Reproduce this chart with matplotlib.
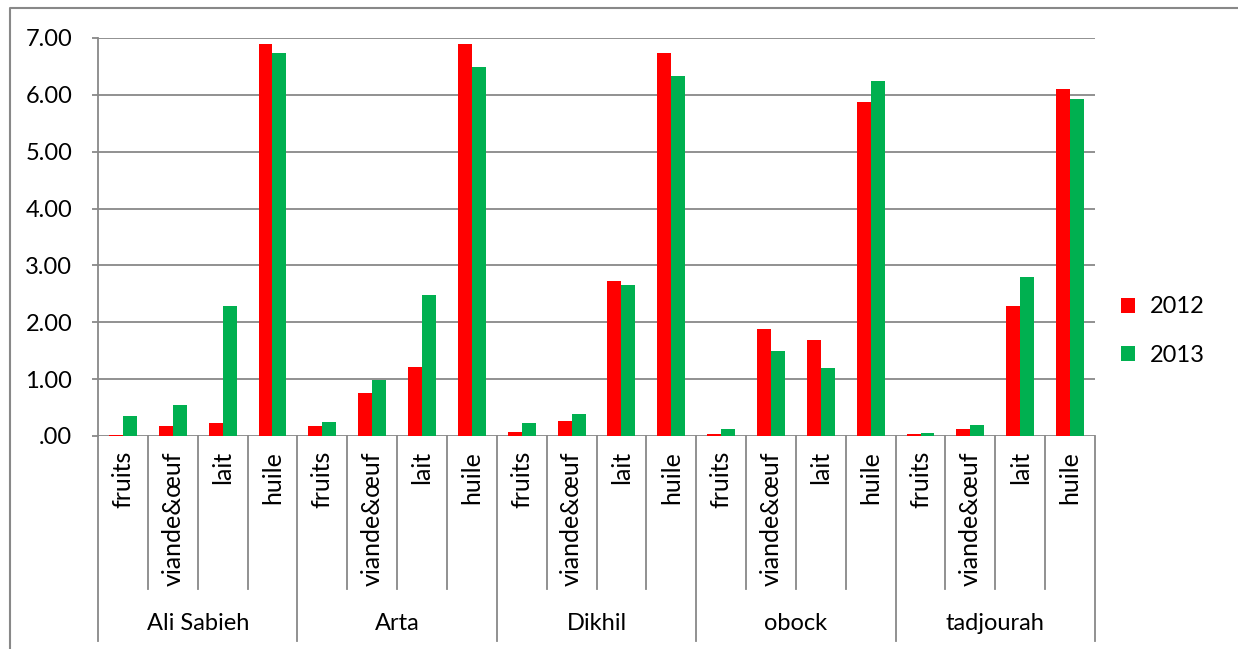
import matplotlib.pyplot as plt
from matplotlib.lines import Line2D
import numpy as np

plt.rcParams["font.family"] = ["Lato", "DejaVu Sans"]

regions = ["Ali Sabieh", "Arta", "Dikhil", "obock", "tadjourah"]
products = ["fruits", "viande&œuf", "lait", "huile"]
years = ["2012", "2013"]

# values per region, in product order
v2012 = [0.02, 0.18, 0.22, 6.90,
         0.17, 0.76, 1.21, 6.90,
         0.07, 0.27, 2.73, 6.73,
         0.04, 1.88, 1.69, 5.87,
         0.03, 0.12, 2.29, 6.10]
v2013 = [0.36, 0.54, 2.29, 6.74,
         0.25, 0.99, 2.48, 6.49,
         0.22, 0.38, 2.66, 6.34,
         0.12, 1.50, 1.20, 6.25,
         0.06, 0.20, 2.80, 5.92]
yticks = [0, 1, 2, 3, 4, 5, 6, 7]

RED = "#FF0000"
GREEN = "#00B050"
GRID = "#888888"
FS = 17

W, H = 1238, 649
fig = plt.figure(figsize=(W / 100, H / 100), dpi=100)


def fx(px):
    return px / W


def fy(py):
    return 1 - py / H


def vline(x, y0, y1, **kw):
    fig.add_artist(Line2D([fx(x), fx(x)], [fy(y0), fy(y1)], color=GRID,
                          linewidth=1.3, transform=fig.transFigure, **kw))


left, right, top, bottom = 98, 1095, 38, 436
ax = fig.add_axes([fx(left), fy(bottom), fx(right) - fx(left), fy(top) - fy(bottom)])

n = len(v2012)
x = np.arange(n)
bw = 0.28
ax.bar(x - bw / 2, v2012, bw, color=RED, label=years[0], zorder=3)
ax.bar(x + bw / 2, v2013, bw, color=GREEN, label=years[1], zorder=3)

ax.set_xlim(-0.5, n - 0.5)
ax.set_ylim(0, 7)
ax.set_yticks(yticks)
ax.set_yticklabels([".00" if v == 0 else f"{v:.2f}" for v in yticks], fontsize=FS)
ax.tick_params(axis="y", length=4.5, width=1.3, color=GRID, pad=14)
ax.set_xticks([])
ax.grid(True, axis="y", color=GRID, linewidth=1.3, zorder=0)
for s in ["top", "right", "bottom"]:
    ax.spines[s].set_visible(False)
ax.spines["left"].set_color(GRID)
ax.spines["left"].set_linewidth(1.3)

# category table below the axis
slot = (right - left) / n
for i in range(n + 1):
    xp = left + i * slot
    if i % len(products) == 0:
        vline(xp, bottom, 641)
    else:
        vline(xp, bottom, 589)
for i in range(n):
    xc = left + (i + 0.5) * slot
    fig.text(fx(xc), fy(451), products[i % len(products)], rotation=90,
             ha="center", va="top", fontsize=FS + 1)
for g, name in enumerate(regions):
    xc = left + (g + 0.5) * slot * len(products)
    fig.text(fx(xc), fy(624), name, ha="center", va="center", fontsize=FS)

# outer chart border (left and top)
fig.add_artist(Line2D([fx(10), fx(10), fx(W)], [fy(H), fy(8), fy(8)],
                      color=GRID, linewidth=1.5, transform=fig.transFigure))

leg = fig.legend(loc="center left", bbox_to_anchor=(fx(1100), fy(331)),
                 frameon=False, fontsize=FS, handlelength=0.6, handleheight=0.6,
                 handletextpad=0.6, labelspacing=1.15)

fig.savefig("out.png", dpi=100)
